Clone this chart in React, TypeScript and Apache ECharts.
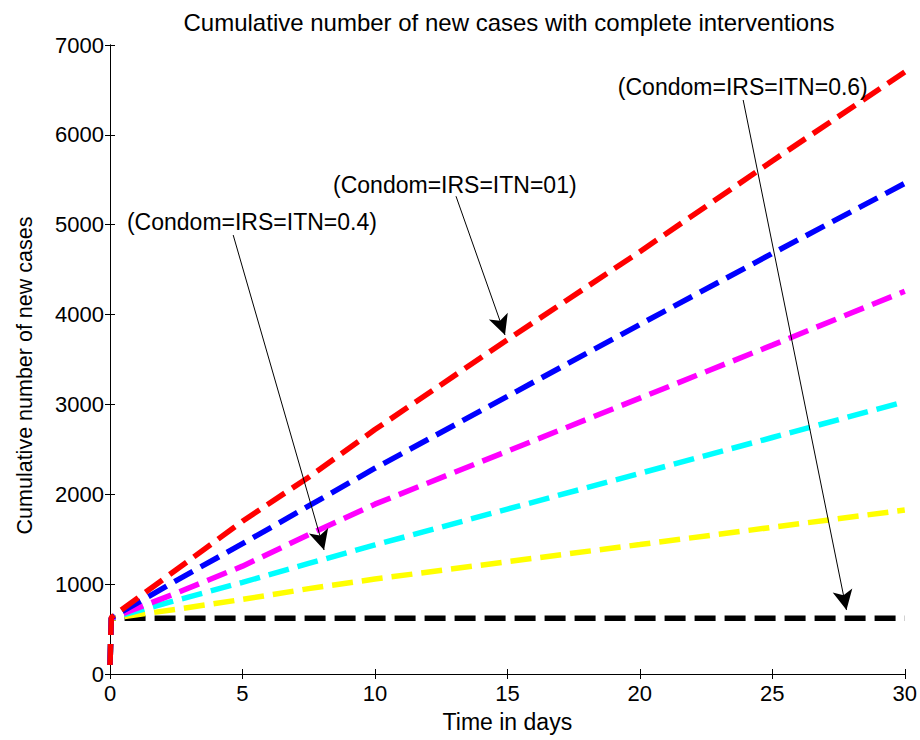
import React, { useEffect, useRef } from "react";
import * as echarts from "echarts";

const timeDays = [0, 0.05, 2.5, 5, 7.5, 10, 15, 20, 25, 30];
const blackVals = [100, 620, 620, 620, 620, 620, 620, 620, 620, 620];
const yellowVals = [100, 620, 720, 830, 950, 1057, 1250, 1441, 1633, 1825];
const cyanVals = [100, 621, 820, 1020, 1230, 1436, 1835, 2233, 2632, 3030];
const magentaVals = [100, 622, 900, 1200, 1550, 1890, 2480, 3070, 3660, 4260];
const blueVals = [100, 625, 1040, 1450, 1870, 2290, 3090, 3890, 4680, 5460];
const redVals = [100, 630, 1160, 1700, 2190, 2720, 3720, 4700, 5710, 6700];

const xTicks = [0, 5, 10, 15, 20, 25, 30];
const yTicks = [0, 1000, 2000, 3000, 4000, 5000, 6000, 7000];

const labelTexts = ["(Condom=IRS=ITN=0.4)", "(Condom=IRS=ITN=01)", "(Condom=IRS=ITN=0.6)"];
const labelAnchors: [number, number][] = [[0.64, 5030], [8.42, 5442], [19.17, 6532]];
const arrowFrom: [number, number][] = [[4.65, 4885], [13.06, 5317], [23.9, 6388]];
const arrowTo: [number, number][] = [[8.08, 1380], [14.91, 3773], [27.8, 712]];

const FONT = "'Liberation Sans', Arial, Helvetica, sans-serif";

function pairs(vals: number[]) {
  return timeDays.map((t, i) => [t, vals[i]]);
}

export default function App() {
  const ref = useRef<HTMLDivElement>(null);
  useEffect(() => {
    document.body.style.margin = "0";
    if (!ref.current) return;
    const chart = echarts.init(ref.current, undefined, { renderer: "svg" });
    const dash = (color: string) => ({
      color,
      width: 5.5,
      type: [21, 9] as any,
      cap: "butt" as const,
    });
    const mkSeries = (name: string, color: string, vals: number[], extra: any = {}) => ({
      name,
      type: "line",
      data: pairs(vals),
      showSymbol: false,
      symbol: "none",
      lineStyle: dash(color),
      itemStyle: { color },
      ...extra,
    });
    const hiddenAxisCommon = {
      axisLabel: { show: false },
      splitLine: { show: false },
      axisLine: { show: true, lineStyle: { color: "#000", width: 1 } },
      axisTick: { show: true, inside: true, length: 5, lineStyle: { color: "#000" } },
    };
    chart.setOption({
      animation: false,
      backgroundColor: "#fff",
      title: {
        text: "Cumulative number of new cases with complete interventions",
        left: 504,
        top: 5,
        textAlign: "center",
        textStyle: { fontFamily: FONT, fontSize: 24, fontWeight: "normal", color: "#000" },
      },
      grid: { left: 110, right: 15, top: 45, bottom: 66 },
      xAxis: [
        {
          type: "value",
          min: 0,
          max: 30,
          interval: 5,
          name: "Time in days",
          nameLocation: "middle",
          nameGap: 36,
          nameTextStyle: { fontFamily: FONT, fontSize: 23, color: "#000" },
          axisLabel: {
            fontFamily: FONT,
            fontSize: 22,
            color: "#000",
            margin: 8,
            formatter: (v: number) => (xTicks.includes(v) ? String(v) : ""),
          },
          splitLine: { show: false },
          axisLine: { show: true, onZero: false, lineStyle: { color: "#000", width: 1 } },
          axisTick: { show: true, inside: true, length: 5, lineStyle: { color: "#000" } },
        },
        { type: "value", min: 0, max: 30, interval: 5, position: "top", ...hiddenAxisCommon },
      ],
      yAxis: [
        {
          type: "value",
          min: 0,
          max: 7000,
          interval: 1000,
          name: "Cumulative number of new cases",
          nameLocation: "middle",
          nameGap: 74,
          nameTextStyle: { fontFamily: FONT, fontSize: 21.5, color: "#000", padding: [0, 32, 0, 0] },
          axisLabel: {
            fontFamily: FONT,
            fontSize: 22,
            color: "#000",
            margin: 6,
            formatter: (v: number) => (yTicks.includes(v) ? String(v) : ""),
          },
          splitLine: { show: false },
          axisLine: { show: true, onZero: false, lineStyle: { color: "#000", width: 1 } },
          axisTick: { show: true, inside: true, length: 5, lineStyle: { color: "#000" } },
        },
        { type: "value", min: 0, max: 7000, interval: 1000, position: "right", ...hiddenAxisCommon },
      ],
      series: [
        mkSeries("black", "#000000", blackVals, {
          markLine: {
            silent: true,
            symbol: ["none", "arrow"],
            symbolSize: [15, 20],
            label: { show: false },
            lineStyle: { color: "#000", width: 1, type: "solid" },
            data: arrowFrom.map((f, i) => [{ coord: f }, { coord: arrowTo[i] }]),
          },
        }),
        mkSeries("yellow", "#ffff00", yellowVals),
        mkSeries("cyan", "#00ffff", cyanVals),
        mkSeries("magenta", "#ff00ff", magentaVals),
        mkSeries("blue", "#0000ff", blueVals),
        mkSeries("red", "#ff0000", redVals),
      ],
    });
    const graphics = labelTexts.map((txt, i) => {
      const p = chart.convertToPixel({ gridIndex: 0 }, labelAnchors[i]) as number[];
      return {
        type: "text",
        x: p[0],
        y: p[1],
        z: 100,
        style: {
          text: txt,
          fontFamily: FONT,
          fontSize: 23,
          fill: "#000",
          textAlign: "left",
          textVerticalAlign: "middle",
        },
      };
    });
    chart.setOption({ graphic: graphics });
    return () => chart.dispose();
  }, []);
  return <div ref={ref} style={{ width: 920, height: 740 }} />;
}
